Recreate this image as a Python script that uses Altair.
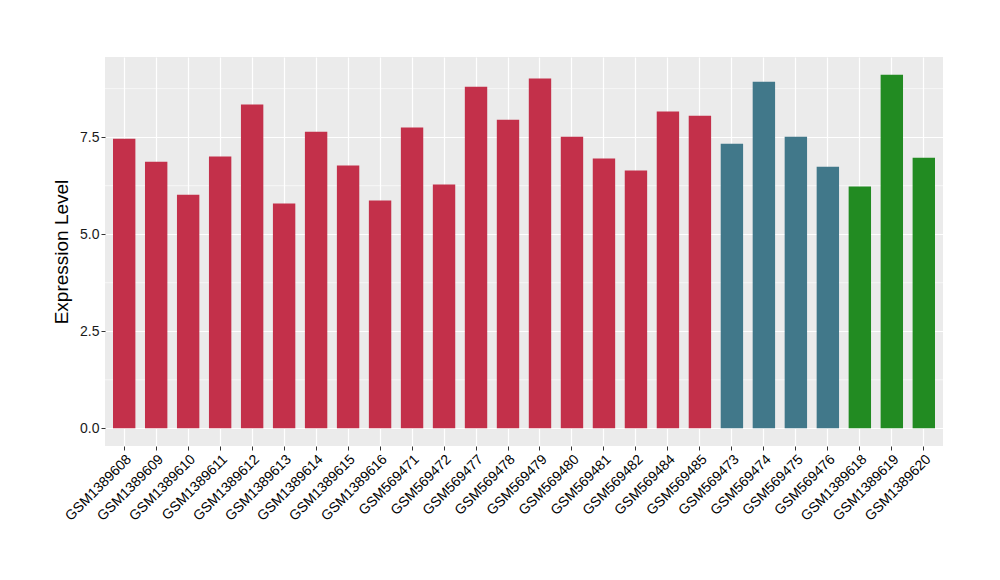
import altair as alt
import pandas as pd

samples = ["GSM1389608", "GSM1389609", "GSM1389610", "GSM1389611", "GSM1389612",
           "GSM1389613", "GSM1389614", "GSM1389615", "GSM1389616", "GSM569471",
           "GSM569472", "GSM569477", "GSM569478", "GSM569479", "GSM569480",
           "GSM569481", "GSM569482", "GSM569484", "GSM569485", "GSM569473",
           "GSM569474", "GSM569475", "GSM569476", "GSM1389618", "GSM1389619",
           "GSM1389620"]
values = [7.46, 6.87, 6.02, 7.00, 8.34, 5.79, 7.64, 6.77, 5.87, 7.75,
          6.28, 8.80, 7.95, 9.01, 7.51, 6.95, 6.64, 8.16, 8.05, 7.33,
          8.93, 7.51, 6.74, 6.23, 9.11, 6.97]
groups = ["A"] * 19 + ["B"] * 4 + ["C"] * 3
group_names = ["A", "B", "C"]
group_colors = ["#C3304A", "#41788A", "#228B22"]
major_ticks = [0, 2.5, 5, 7.5]
minor_ticks = [1.25, 3.75, 6.25, 8.75]

df = pd.DataFrame({"sample": samples, "value": values, "group": groups})
minor_df = pd.DataFrame({"y": minor_ticks})

vmax = max(values)
ydom = [-0.05 * vmax, vmax * 1.05]
FONT = "Liberation Sans"

yscale = alt.Scale(domain=ydom, nice=False, zero=False)

minor = alt.Chart(minor_df).mark_rule(color="white", strokeWidth=0.6).encode(
    y=alt.Y("y:Q", scale=yscale)
)

bars = alt.Chart(df).mark_bar().encode(
    x=alt.X("sample:N", sort=samples,
            scale=alt.Scale(paddingInner=0.3, paddingOuter=0.25),
            axis=alt.Axis(title=None, labelAngle=315, labelAlign="right",
                          labelBaseline="top", labelFontSize=14, labelColor="black",
                          labelFont=FONT, grid=True, gridColor="white", gridWidth=1.2,
                          bandPosition=0.5, domain=False, tickColor="#333333",
                          tickSize=4, labelPadding=2)),
    y=alt.Y("value:Q", scale=yscale,
            axis=alt.Axis(title="Expression Level", values=major_ticks, format=".1f",
                          labelFontSize=14, labelColor="#1a1a1a", labelFont=FONT,
                          titleFont=FONT, titleFontSize=19, titleFontWeight="normal",
                          titleColor="black", grid=True, gridColor="white",
                          gridWidth=1.2, domain=False, tickColor="#333333",
                          tickSize=4, labelPadding=2, titlePadding=8)),
    y2=alt.datum(0),
    color=alt.Color("group:N", scale=alt.Scale(domain=group_names, range=group_colors),
                    legend=None),
)

chart = alt.layer(minor, bars).properties(
    width=838, height=389,
    autosize=alt.AutoSizeParams(type="none"),
    padding={"left": 97, "top": 49, "right": 40, "bottom": 115},
).configure(
    background="white",
    view=alt.ViewConfig(fill="#EBEBEB", stroke=None),
)

chart.save("out.html", embed_options={"renderer": "svg", "actions": False})
